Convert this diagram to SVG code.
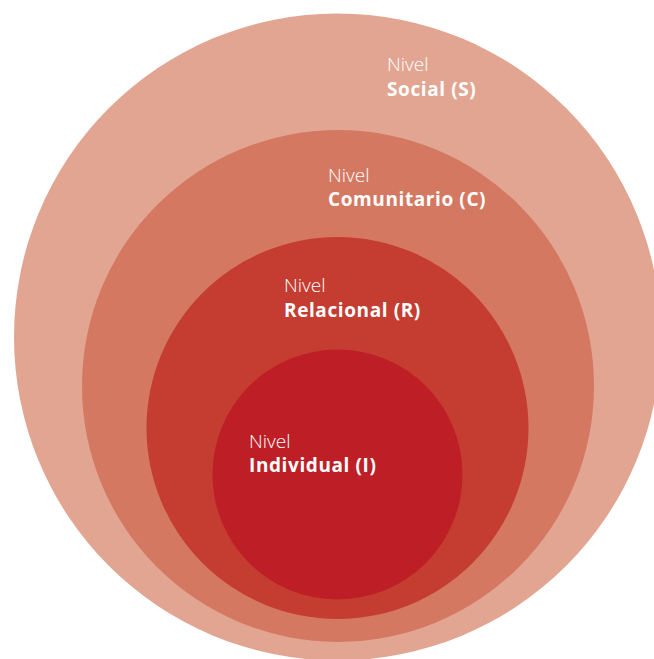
<svg xmlns="http://www.w3.org/2000/svg" width="654" height="659" viewBox="0 0 654 659">
<style>
.t{font-family:"Open Sans","Noto Sans","Liberation Sans",sans-serif;font-size:19px;fill:#ffffff}
.l{font-weight:300}
.b{font-weight:700;letter-spacing:0.6px}
</style>
<rect width="654" height="659" fill="#ffffff"/>
<g id="nivel-social">
<circle cx="337.5" cy="337" r="323.5" fill="#E2A591"/>
<text class="t l" x="387" y="71">Nivel</text>
<text class="t b" x="387" y="96">Social (S)</text>
</g>
<g id="nivel-comunitario">
<circle cx="338" cy="386" r="256" fill="#D47862"/>
<text class="t l" x="328" y="182">Nivel</text>
<text class="t b" x="328" y="206">Comunitario (C)</text>
</g>
<g id="nivel-relacional">
<circle cx="337.5" cy="428" r="191" fill="#C53C31"/>
<text class="t l" x="284" y="292">Nivel</text>
<text class="t b" x="284" y="317">Relacional (R)</text>
</g>
<g id="nivel-individual">
<circle cx="337.5" cy="474.5" r="125" fill="#BE1E25"/>
<text class="t l" x="249" y="448">Nivel</text>
<text class="t b" x="249" y="472">Individual (I)</text>
</g>
<g id="connectors"/>
</svg>
